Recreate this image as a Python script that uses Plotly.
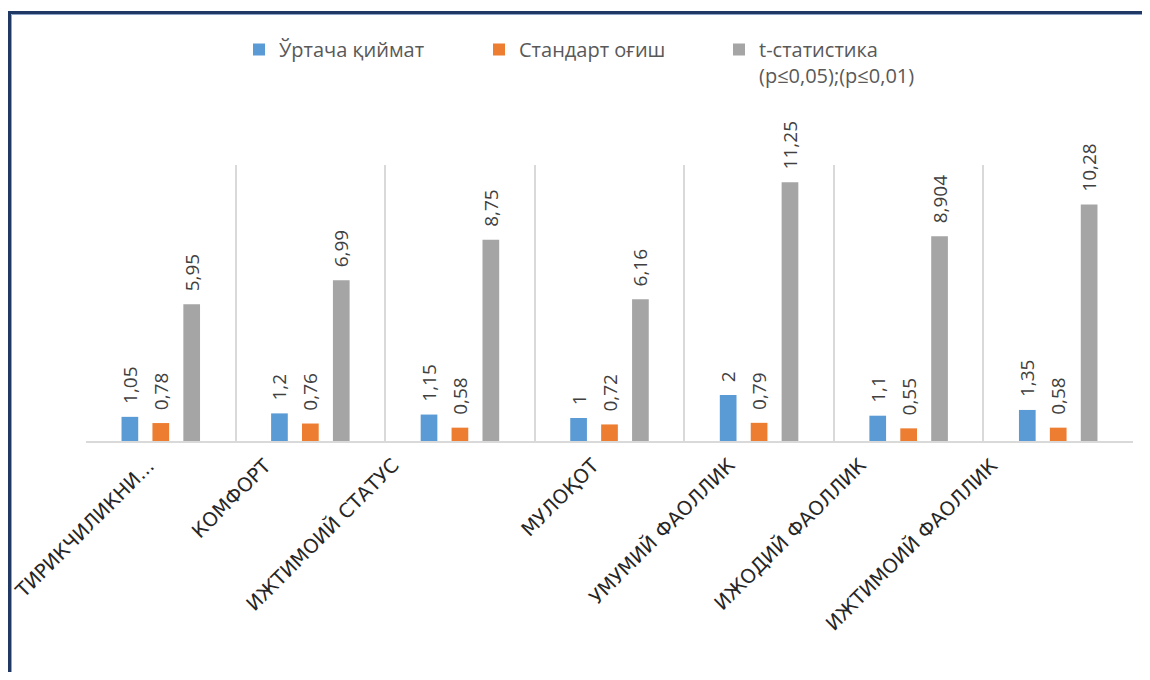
import plotly.graph_objects as go

categories = ["ТИРИКЧИЛИКНИ...", "КОМФОРТ", "ИЖТИМОИЙ СТАТУС", "МУЛОҚОТ",
              "УМУМИЙ ФАОЛЛИК", "ИЖОДИЙ ФАОЛЛИК", "ИЖТИМОИЙ ФАОЛЛИК"]
mean_vals = [1.05, 1.2, 1.15, 1, 2, 1.1, 1.35]
std_vals = [0.78, 0.76, 0.58, 0.72, 0.79, 0.55, 0.58]
t_vals = [5.95, 6.99, 8.75, 6.16, 11.25, 8.904, 10.28]
series_names = ["Ўртача қиймат", "Стандарт оғиш", "t-статистика<br>(p≤0,05);(p≤0,01)"]
colors = ["#5B9BD5", "#ED7D31", "#A5A5A5"]
# horizontal offsets (px) of the rotated category labels, as laid out in the source
label_dx = [1, -32, -53, -3, -17, -35, -53]

# page body has an 8px margin; work in figure coordinates (page - 8)
OFF = 8
W, H = 1134, 664
L, R, T, B = 86 - OFF, 1133 - OFF, 165 - OFF, 441 - OFF

NBSP = "\u00a0"


def fmt(v):
    return NBSP * 2 + str(v).replace(".", ",")


fig = go.Figure()
for name, vals, col in zip(series_names, [mean_vals, std_vals, t_vals], colors):
    fig.add_trace(go.Bar(
        x=categories, y=vals, name=name, marker=dict(color=col, line_width=0),
        text=[fmt(v) for v in vals], textposition="outside", textangle=-90,
        textfont=dict(family="Open Sans", size=19, color="#404040"),
        constraintext="none", cliponaxis=False,
    ))


def px(x):
    return (x - OFF - L) / (R - L)


def py(y):
    return (B - (y - OFF)) / (B - T)


annotations = [
    dict(x=c, xref="x", y=0, yref="paper", text=c, showarrow=False, textangle=-45,
         xanchor="right", yanchor="top", xshift=dx, yshift=-10,
         font=dict(family="DejaVu Sans", size=19.5, color="#262626"))
    for c, dx in zip(categories, label_dx)
]

fig.update_layout(
    width=W, height=H,
    margin=dict(l=L, r=W - R, t=T, b=H - B, autoexpand=False),
    paper_bgcolor="white", plot_bgcolor="white",
    barmode="group", bargap=0.38, bargroupgap=0.46,
    showlegend=True,
    legend=dict(orientation="h", x=px(239), y=py(30), xanchor="left", yanchor="top",
                font=dict(family="Open Sans", size=20, color="#595959"),
                entrywidth=195, entrywidthmode="pixels", itemclick=False,
                valign="top", traceorder="normal", bgcolor="rgba(0,0,0,0)"),
    xaxis=dict(type="category", tickson="boundaries", showgrid=True, gridcolor="#D9D9D9",
               gridwidth=2, showline=True, linecolor="#D9D9D9", linewidth=2,
               ticks="", showticklabels=False, autorange=False,
               range=[-0.5, len(categories) - 0.5]),
    yaxis=dict(range=[0, 12], autorange=False, showticklabels=False, showgrid=False,
               zeroline=False, showline=False),
    annotations=annotations,
    shapes=[
        dict(type="rect", xref="paper", yref="paper",
             x0=px(9.5), x1=px(1200), y0=py(12.5), y1=py(760),
             line=dict(color="#203864", width=3), fillcolor="rgba(0,0,0,0)",
             layer="above"),
        dict(type="rect", xref="paper", yref="paper",
             x0=px(11.5), x1=px(1200), y0=py(14.5), y1=py(760),
             line=dict(color="#8EA3C8", width=1), fillcolor="rgba(0,0,0,0)",
             layer="above"),
    ],
)

fig.write_html("out.html")
